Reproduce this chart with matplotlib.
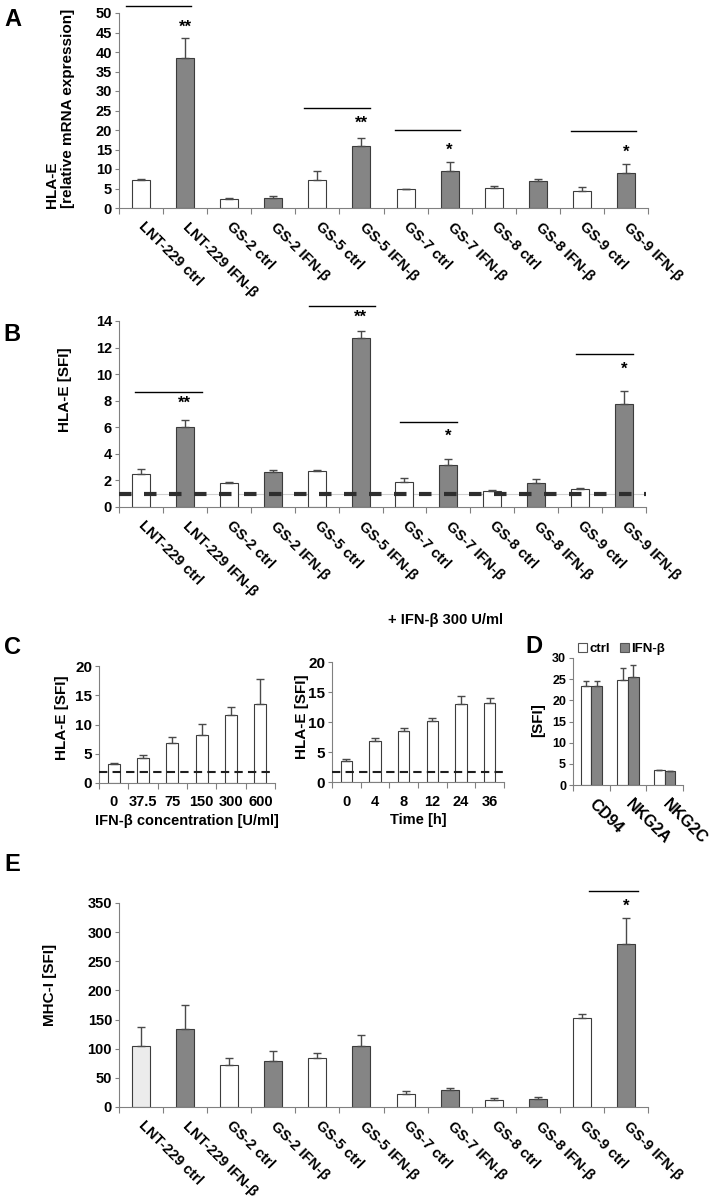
import numpy as np
import matplotlib
matplotlib.use('Agg')
import matplotlib.pyplot as plt
from matplotlib.patches import Patch

plt.rcParams['font.family'] = ['Liberation Sans', 'DejaVu Sans']
plt.rcParams['font.weight'] = 'bold'
plt.rcParams['axes.labelweight'] = 'bold'

# ---- data ----
cells = ['LNT-229 ctrl', 'LNT-229 IFN-β', 'GS-2 ctrl', 'GS-2 IFN-β', 'GS-5 ctrl', 'GS-5 IFN-β',
         'GS-7 ctrl', 'GS-7 IFN-β', 'GS-8 ctrl', 'GS-8 IFN-β', 'GS-9 ctrl', 'GS-9 IFN-β']
mrna = [7.2, 38.5, 2.4, 2.6, 7.2, 15.8, 4.9, 9.5, 5.1, 6.8, 4.3, 9.0]
mrna_err = [0.2, 5.2, 0.1, 0.6, 2.3, 2.1, 0.0, 2.4, 0.5, 0.7, 1.1, 2.2]
sfi = [2.45, 6.05, 1.84, 2.64, 2.72, 12.75, 1.89, 3.15, 1.18, 1.79, 1.33, 7.76]
sfi_err = [0.4, 0.5, 0.06, 0.13, 0.05, 0.52, 0.31, 0.5, 0.08, 0.28, 0.08, 0.94]
mhc = [105, 133, 72, 79, 83.5, 105.4, 21.9, 29.9, 11.5, 13.2, 152.6, 280]
mhc_err = [32, 42.6, 11.5, 16.7, 8.5, 17.8, 6.3, 3.5, 3.5, 3.5, 6.9, 44.6]
bar_fill = ['white', 'gray'] * 6
mhc_fill = ['lightgray'] + bar_fill[1:]

conc = ['0', '37.5', '75', '150', '300', '600']
conc_vals = [3.2, 4.3, 6.8, 8.2, 11.6, 13.5]
conc_err = [0.2, 0.5, 1.1, 1.9, 1.4, 4.2]
conc_base = 1.8

times = ['0', '4', '8', '12', '24', '36']
time_vals = [3.58, 6.76, 8.49, 10.2, 12.96, 13.1]
time_err = [0.27, 0.5, 0.56, 0.5, 1.4, 0.87]
time_base = 1.6

receptors = ['CD94', 'NKG2A', 'NKG2C']
d_ctrl = [23.5, 24.7, 3.47]
d_ctrl_err = [1.0, 2.9, 0.13]
d_ifn = [23.5, 25.5, 3.3]
d_ifn_err = [1.0, 2.9, 0.0]

# significance annotations: (x_from, x_to, y) lines and (x, text, y) stars
sig_a = [(-0.34, 1.14, 51.7), (3.69, 5.19, 25.6), (5.76, 7.24, 20.0), (9.75, 11.23, 19.8)]
star_a = [(1, '**', 46.4), (5, '**', 21.7), (7, '*', 14.9), (11, '*', 14.2)]
sig_b = [(-0.14, 1.39, 8.69), (3.82, 5.32, 15.1), (5.89, 7.2, 6.42), (9.9, 11.2, 11.5)]
star_b = [(1, '**', 7.8), (5, '**', 14.25), (7, '*', 5.3), (11, '*', 10.35)]
sig_e = [(10.16, 11.27, 371)]
star_e = [(11, '*', 345)]

COLORS = {'white': 'white', 'gray': '#858585', 'lightgray': '#ececec'}
SPINE = '#808080'

W, H = 712, 1199
fig = plt.figure(figsize=(W / 100, H / 100), dpi=100)


def box(l, r, t, b):
    return [l / W, 1 - b / H, (r - l) / W, (b - t) / H]


def style(ax, fs=10.5):
    for s in ['top', 'right']:
        ax.spines[s].set_visible(False)
    for s in ['left', 'bottom']:
        ax.spines[s].set_color(SPINE)
    ax.tick_params(axis='y', length=3, color=SPINE, labelsize=fs, pad=2)
    ax.tick_params(axis='x', which='major', length=4, color=SPINE, direction='out')


def cell_bars(ax, vals, errs, fills, sig, stars, ymax, ystep):
    n = len(vals)
    x = np.arange(n)
    ax.bar(x, vals, width=0.41, color=[COLORS[f] for f in fills],
           edgecolor='#3c3c3c', linewidth=0.8, zorder=2)
    ax.errorbar(x, vals, yerr=[np.zeros(n), errs], fmt='none', ecolor='#4a4a4a',
                elinewidth=1, capsize=3, capthick=1, zorder=3)
    ax.set_xlim(-0.5, n - 0.5)
    ax.set_ylim(0, ymax)
    ax.set_yticks(np.arange(0, ymax + 0.1, ystep))
    ax.set_xticks(np.arange(-0.5, n, 1))
    ax.set_xticklabels([])
    ax.set_xticks(x, minor=True)
    ax.set_xticklabels(cells, minor=True, rotation=-45, ha='left', va='center',
                       rotation_mode='anchor', fontsize=10.5)
    ax.tick_params(axis='x', which='minor', length=0, pad=12)
    style(ax)
    for x0, x1, y in sig:
        ax.plot([x0, x1], [y, y], color='black', lw=1, clip_on=False)
    for xs, t, y in stars:
        ax.text(xs, y, t, ha='center', va='center', fontsize=12)


# A
axA = fig.add_axes(box(119, 648, 13, 208))
cell_bars(axA, mrna, mrna_err, bar_fill, sig_a, star_a, 50, 5)
fig.text(60 / W, 1 - 108 / H, 'HLA-E\n[relative mRNA expression]', rotation=90,
         ha='center', va='center', multialignment='left', fontsize=11)

# B
axB = fig.add_axes(box(119, 646, 321, 507))
cell_bars(axB, sfi, sfi_err, bar_fill, sig_b, star_b, 14, 2)
axB.axhline(1, color='#d0d0d0', lw=0.8, zorder=1)
axB.axhline(1, color='#2e2e2e', lw=3, ls=(0, (3, 3)), zorder=4)
fig.text(65 / W, 1 - 390 / H, 'HLA-E [SFI]', rotation=90, ha='center', va='center', fontsize=11)

# E
axE = fig.add_axes(box(119, 648, 903, 1107))
cell_bars(axE, mhc, mhc_err, mhc_fill, sig_e, star_e, 350, 50)
fig.text(50 / W, 1 - 985 / H, 'MHC-I [SFI]', rotation=90, ha='center', va='center', fontsize=11)


# C
def c_panel(ax, labels, vals, errs, base, xlabel):
    n = len(vals)
    x = np.arange(n)
    ax.bar(x, vals, width=0.4, color='white', edgecolor='#3c3c3c', linewidth=0.8, zorder=2)
    ax.errorbar(x, vals, yerr=[np.zeros(n), errs], fmt='none', ecolor='#4a4a4a',
                elinewidth=1, capsize=3, capthick=1, zorder=3)
    ax.axhline(base, color='#1e1e1e', lw=1.5, ls=(0, (4, 2.5)), zorder=4)
    ax.set_xlim(-0.5, n - 0.5)
    ax.set_ylim(0, 20)
    ax.set_yticks([0, 5, 10, 15, 20])
    ax.set_xticks(np.arange(-0.5, n, 1))
    ax.set_xticklabels([])
    ax.set_xticks(x, minor=True)
    ax.set_xticklabels(labels, minor=True, fontsize=10.5)
    ax.tick_params(axis='x', which='minor', length=0, pad=9)
    style(ax, fs=11)
    ax.set_xlabel(xlabel, fontsize=10.5, labelpad=3)


axC1 = fig.add_axes(box(99, 275, 666, 783))
c_panel(axC1, conc, conc_vals, conc_err, conc_base, 'IFN-β concentration [U/ml]')
fig.text(62 / W, 1 - 718 / H, 'HLA-E [SFI]', rotation=90, ha='center', va='center', fontsize=11)

axC2 = fig.add_axes(box(332, 504, 662, 782))
c_panel(axC2, times, time_vals, time_err, time_base, 'Time [h]')
fig.text(302 / W, 1 - 717 / H, 'HLA-E [SFI]', rotation=90, ha='center', va='center', fontsize=11)
fig.text(446 / W, 1 - 620 / H, '+ IFN-β 300 U/ml', ha='center', va='center', fontsize=10.5)

# D
axD = fig.add_axes(box(573, 683, 658, 785))
xd = np.arange(len(receptors))
bw = 0.29
axD.bar(xd - bw / 2, d_ctrl, width=bw, color='white', edgecolor='#3c3c3c', linewidth=0.8, zorder=2)
axD.bar(xd + bw / 2, d_ifn, width=bw, color=COLORS['gray'], edgecolor='#3c3c3c', linewidth=0.8, zorder=2)
axD.errorbar(xd - bw / 2, d_ctrl, yerr=[np.zeros(3), d_ctrl_err], fmt='none', ecolor='#4a4a4a',
             elinewidth=1, capsize=2.5, capthick=1, zorder=3)
axD.errorbar(xd + bw / 2, d_ifn, yerr=[np.zeros(3), d_ifn_err], fmt='none', ecolor='#4a4a4a',
             elinewidth=1, capsize=2.5, capthick=1, zorder=3)
axD.set_xlim(-0.5, 2.5)
axD.set_ylim(0, 30)
axD.set_yticks(np.arange(0, 31, 5))
axD.set_xticks(np.arange(-0.5, 3, 1))
axD.set_xticklabels([])
axD.set_xticks(xd, minor=True)
axD.set_xticklabels(receptors, minor=True, rotation=-45, ha='left', va='center',
                    rotation_mode='anchor', fontsize=11.5)
axD.tick_params(axis='x', which='minor', length=0, pad=12)
style(axD, fs=9)
fig.text(538 / W, 1 - 720 / H, '[SFI]', rotation=90, ha='center', va='center', fontsize=11)
handles = [Patch(facecolor='white', edgecolor='#555555', lw=0.8, label='ctrl'),
           Patch(facecolor=COLORS['gray'], edgecolor='#555555', lw=0.8, label='IFN-β')]
axD.legend(handles=handles, loc='lower left', bbox_to_anchor=(0.02, 1.0), ncol=2, frameon=False,
           fontsize=9.5, handlelength=0.7, handleheight=0.7, handletextpad=0.2,
           columnspacing=0.7, borderpad=0, borderaxespad=0.2)

# panel letters
for letter, (px, py) in zip('ABCDE', [(4, 8), (3, 323), (4, 636), (525, 635), (4, 853)]):
    fig.text(px / W, 1 - py / H, letter, ha='left', va='top', fontsize=17)

fig.savefig('out.png', dpi=100)
